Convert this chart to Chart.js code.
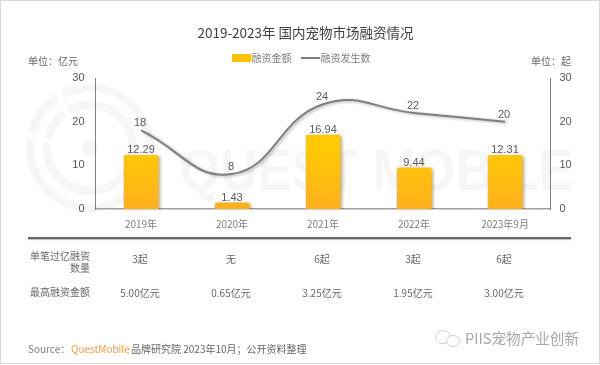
<!DOCTYPE html>
<html>
<head>
<meta charset="utf-8">
<script src="https://cdn.jsdelivr.net/npm/chart.js@4/dist/chart.umd.min.js"></script>
<style>
html, body { margin: 0; padding: 0; background: #fff; }
#page { position: relative; width: 600px; height: 365px; overflow: hidden; font-family: "Noto Sans CJK SC", "Liberation Sans", sans-serif; color: #666; }
#frame { position: absolute; left: 0; top: 0; width: 598px; height: 362px; border: 1px solid #d9d9d9; }
#mark { position: absolute; left: 0; top: 0; }
canvas { position: absolute; left: 0; top: 0; }
.t { position: absolute; white-space: nowrap; line-height: 14px; font-size: 10px; }
.c { transform: translateX(-50%); }
.r { transform: translateX(-100%); }
#rule { position: absolute; left: 28px; top: 237px; width: 543px; height: 1.5px; background: #666; box-shadow: 0 1px 1px #bbb; }
</style>
</head>
<body>
<div id="page">
  <div id="frame"></div>
  <svg id="mark" width="600" height="365">
    <g fill="none" stroke="#f6f6f6" stroke-width="8">
      <circle cx="90" cy="148" r="60" stroke-dasharray="197 6 45 6 123"/>
      <circle cx="90" cy="148" r="43" stroke-dasharray="140 5 30 5 90"/>
    </g>
    <circle cx="90" cy="148" r="8" fill="#f6f6f6"/>
    <text x="180" y="190" font-family="Liberation Sans" font-weight="bold" font-size="58" textLength="393" lengthAdjust="spacingAndGlyphs" fill="#f6f6f6">QUEST MOBILE</text>
    <g fill="#fff" stroke="#cfcfcf" stroke-width="1">
      <ellipse cx="443" cy="337" rx="7.5" ry="6.5"/>
      <ellipse cx="453" cy="341" rx="6.5" ry="5.5"/>
    </g>
  </svg>
  <canvas id="chart" width="600" height="365"></canvas>
  <div id="rule"></div>
  <div id="texts"></div>
</div>
<script>
// Data
var categories = ["2019年", "2020年", "2021年", "2022年", "2023年9月"];
var amounts = [12.29, 1.43, 16.94, 9.44, 12.31];
var deals = [18, 8, 24, 22, 20];
var yTicks = [0, 10, 20, 30];
var bigDeals = ["3起", "无", "6起", "3起", "6起"];
var topAmounts = ["5.00亿元", "0.65亿元", "3.25亿元", "1.95亿元", "3.00亿元"];
var seriesNames = ["融资金额", "融资发生数"];

Chart.defaults.font.family = '"Noto Sans CJK SC", "Liberation Sans", sans-serif';

// shadow behind bars and line
var shadow = {
    id: 'shadow',
    beforeDatasetDraw: function(chart) {
        chart.ctx.save();
        chart.ctx.shadowColor = 'rgba(0,0,0,0.3)';
        chart.ctx.shadowBlur = 3;
        chart.ctx.shadowOffsetX = 2;
        chart.ctx.shadowOffsetY = 1;
    },
    afterDatasetDraw: function(chart) {
        chart.ctx.restore();
    }
};

// value labels over the marks
var valueLabels = {
    id: 'valueLabels',
    afterDatasetsDraw: function(chart) {
        var ctx = chart.ctx;
        ctx.save();
        ctx.font = '11px "Liberation Sans"';
        ctx.fillStyle = '#595959';
        ctx.textAlign = 'center';
        chart.getDatasetMeta(1).data.forEach(function(el, i) {
            ctx.fillText(amounts[i].toFixed(2), el.x, el.y - 5);
        });
        chart.getDatasetMeta(0).data.forEach(function(el, i) {
            ctx.fillText(deals[i], el.x - 1, el.y - 7);
        });
        ctx.restore();
    }
};

// a bit more room under the legend
var legendRoom = {
    id: 'legendRoom',
    beforeInit: function(chart) {
        var fit = chart.legend.fit;
        chart.legend.fit = function() {
            fit.call(chart.legend);
            this.height += 5;
        };
    }
};

function barFill(c) {
    var area = c.chart.chartArea;
    if (!area) return '#ffc000';
    var g = c.chart.ctx.createLinearGradient(0, 150, 0, area.bottom);
    g.addColorStop(0, '#ffc905');
    g.addColorStop(1, '#ffb01e');
    return g;
}

// legend swatches, wider than the gap the legend leaves for them
function swatch(color, h) {
    var c = document.createElement('canvas');
    c.width = 19;
    c.height = 8;
    var x = c.getContext('2d');
    x.fillStyle = color;
    x.fillRect(0, (8 - h) / 2, 19, h);
    return c;
}

var chart = new Chart(document.getElementById('chart').getContext('2d'), {
    type: 'bar',
    data: {
        labels: categories,
        datasets: [
            {
                type: 'line',
                label: seriesNames[1],
                data: deals,
                yAxisID: 'y1',
                borderColor: '#7f7f7f',
                backgroundColor: '#7f7f7f',
                borderWidth: 2,
                tension: 0.45,
                pointRadius: 0,
                order: 0
            },
            {
                label: seriesNames[0],
                data: amounts,
                yAxisID: 'y',
                backgroundColor: barFill,
                barThickness: 34,
                borderRadius: { topLeft: 2, topRight: 2 },
                borderSkipped: 'bottom',
                order: 1
            }
        ]
    },
    options: {
        responsive: false,
        animation: false,
        events: [],
        layout: { padding: { left: 6, right: 0, top: 40, bottom: 126 } },
        plugins: {
            tooltip: { enabled: false },
            legend: {
                display: true,
                position: 'top',
                reverse: true,
                labels: {
                    usePointStyle: true,
                    pointStyleWidth: 11,
                    boxHeight: 8,
                    padding: 13,
                    color: '#7f7f7f',
                    font: { size: 10 },
                    generateLabels: function(c) {
                        var items = Chart.defaults.plugins.legend.labels.generateLabels(c);
                        items.forEach(function(it) {
                            it.pointStyle = it.datasetIndex === 1 ? swatch('#ffc107', 8) : swatch('#7f7f7f', 2);
                        });
                        return items;
                    }
                }
            }
        },
        scales: {
            x: {
                grid: { display: false, drawTicks: false },
                border: { color: '#a0a0a0', width: 1.5 },
                ticks: { color: '#7f7f7f', font: { size: 10 }, padding: 9, maxRotation: 0 }
            },
            y: {
                min: 0, max: 30,
                position: 'left',
                grid: { display: false, drawTicks: false },
                border: { color: '#7f7f7f', width: 1 },
                afterFit: function(s) { s.width = 89.5; },
                afterBuildTicks: function(s) { s.ticks = yTicks.map(function(v) { return { value: v }; }); },
                ticks: { color: '#595959', font: { size: 11, family: '"Liberation Sans"' }, padding: 11 }
            },
            y1: {
                min: 0, max: 30,
                position: 'right',
                grid: { display: false, drawTicks: false },
                border: { color: '#7f7f7f', width: 1 },
                afterFit: function(s) { s.width = 49.5; },
                afterBuildTicks: function(s) { s.ticks = yTicks.map(function(v) { return { value: v }; }); },
                ticks: { color: '#595959', font: { size: 11, family: '"Liberation Sans"' }, padding: 9 }
            }
        }
    },
    plugins: [shadow, valueLabels, legendRoom]
});

// texts around the chart
var box = document.getElementById('texts');
function addText(str, x, y, cls, extra) {
    var el = document.createElement('div');
    el.className = 't ' + (cls || '');
    el.textContent = str;
    el.style.left = x + 'px';
    el.style.top = (y - 7) + 'px';
    if (extra) el.style.cssText += extra;
    box.appendChild(el);
    return el;
}
addText('2019-2023年 国内宠物市场融资情况', 305.5, 32, 'c', 'font-size:13.5px;color:#404040');
addText('单位：亿元', 28, 61);
addText('单位：起', 531, 61);
addText('单笔过亿融资', 90, 256, 'r');
addText('数量', 90, 268, 'r');
addText('最高融资金额', 90, 292, 'r');
var xs = chart.scales.x;
bigDeals.forEach(function(s, i) {
    addText(s, xs.getPixelForValue(i) - 1, 259, 'c');
});
topAmounts.forEach(function(s, i) {
    addText(s, xs.getPixelForValue(i) - 1, 293, 'c');
});
addText('Source：', 28, 349, '', 'color:#7f7f7f');
addText('QuestMobile', 71, 349, '', 'color:#ff9a2e');
addText('品牌研究院 2023年10月；公开资料整理', 131, 349);
addText('PIIS宠物产业创新', 465, 338, '', 'font-size:14.6px;color:#a6a6a6');
</script>
</body>
</html>
